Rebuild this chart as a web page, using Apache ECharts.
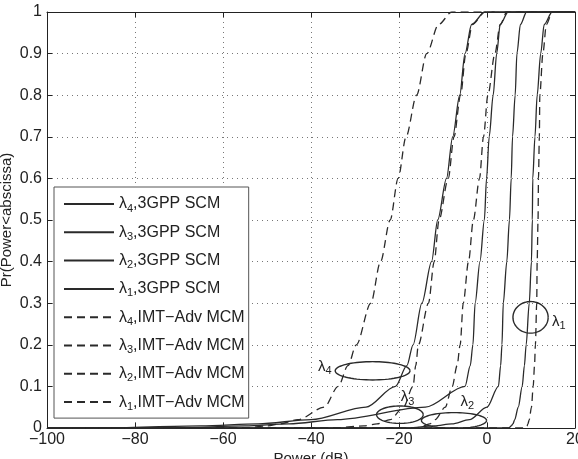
<!DOCTYPE html>
<html>
<head>
<meta charset="utf-8">
<script src="https://cdn.jsdelivr.net/npm/echarts@6/dist/echarts.min.js"></script>
<style>
  html, body { margin: 0; padding: 0; background: #fff; }
  #chart { width: 578px; height: 459px; }
</style>
</head>
<body>
<div id="chart"></div>
<script>
var chartDom = document.getElementById("chart");
var myChart = echarts.init(chartDom);

// cumulative probability levels shared by all curves
var probs = [0, 0, 0.005, 0.01, 0.02, 0.05, 0.1, 0.15, 0.2, 0.3, 0.4, 0.5, 0.6, 0.7, 0.8, 0.9, 0.97, 1, 1];

// power (dB) at each level
var scm4 = [-100, -88, -65, -52, -40, -27.5, -20.8, -18.2, -16.8, -14.8, -12.6, -11.2, -9.2, -7.8, -6.2, -5, -3.5, -0.5, 20];
var scm3 = [-100, -70, -55, -45, -34, -14, -5, -3.8, -3.2, -2.7, -1.6, -0.6, -0.1, 0.5, 1.4, 2.2, 3.0, 4.8, 20];
var scm2 = [-100, -18, -12, -8, -4, 0, 2.6, 3.1, 3.4, 3.7, 4.5, 5.1, 5.5, 5.8, 6.4, 6.8, 7.6, 9, 20];
var scm1 = [-100, 5, 5.5, 5.9, 6.3, 7.1, 8, 8.5, 8.9, 9.6, 10.1, 10.3, 10.4, 10.9, 11.4, 12.2, 13, 14.8, 20];
var mcm4 = [-100, -55, -50, -47, -43, -37, -33.8, -31.6, -29.7, -26.4, -24.2, -22, -20.2, -18.4, -16, -13.7, -11, -8, 20];
var mcm3 = [-100, -35, -28, -25, -22, -19, -16.8, -16.2, -15.6, -13.3, -12, -10.9, -8.8, -7.5, -6, -4.8, -3.3, -0.5, 20];
var mcm2 = [-100, -16, -14.5, -13, -11.8, -9.5, -7.9, -6.8, -6.1, -5.4, -4.2, -3.1, -1.7, -0.8, 0.2, 1.8, 3, 4.5, 20];
var mcm1 = [-100, 8.8, 9.1, 9.3, 9.6, 10.1, 10.5, 10.8, 11.0, 11.3, 11.4, 11.6, 11.7, 11.9, 12.0, 12.7, 13.5, 14.8, 20];

var seriesNames = [
  "λ4,3GPP SCM", "λ3,3GPP SCM", "λ2,3GPP SCM", "λ1,3GPP SCM",
  "λ4,IMT−Adv MCM", "λ3,IMT−Adv MCM", "λ2,IMT−Adv MCM", "λ1,IMT−Adv MCM"
];
var seriesX = [scm4, scm3, scm2, scm1, mcm4, mcm3, mcm2, mcm1];

var xTicks = [-100, -80, -60, -40, -20, 0, 20];

// ellipse annotations: [centre x, centre y, radius x, radius y]
var ellipses = [
  [-26, 0.1375, 8.5, 0.022],
  [-19.8, 0.032, 5.3, 0.021],
  [-7.5, 0.018, 7.4, 0.019],
  [9.9, 0.266, 4.0, 0.038]
];
// λ labels: [x, y, index, align]
var lambdaLabels = [
  [-35.3, 0.148, "4", "right"],
  [-19.6, 0.074, "3", "left"],
  [-6.0, 0.064, "2", "left"],
  [14.8, 0.256, "1", "left"]
];

var lineColor = "#2a2a2a";
var font = "Liberation Sans, Arial, Helvetica, sans-serif";

function pairs(xs) {
  return xs.map(function (x, i) { return [x, probs[i]]; });
}

var series = seriesNames.map(function (name, i) {
  return {
    name: name,
    type: "line",
    data: pairs(seriesX[i]),
    smooth: 0.3,
    smoothMonotone: "x",
    symbol: "none",
    silent: true,
    lineStyle: {
      color: lineColor,
      width: 1.3,
      type: i < 4 ? "solid" : [8, 5]
    },
    itemStyle: { color: lineColor }
  };
});

series.push({
  type: "custom",
  silent: true,
  data: ellipses,
  renderItem: function (params, api) {
    var cx = api.value(0), cy = api.value(1);
    var rx = api.value(2), ry = api.value(3);
    var pts = [];
    for (var k = 0; k <= 72; k++) {
      var t = (k / 72) * Math.PI * 2;
      pts.push(api.coord([cx + rx * Math.cos(t), cy + ry * Math.sin(t)]));
    }
    return {
      type: "polyline",
      shape: { points: pts },
      style: { stroke: lineColor, lineWidth: 1.4, fill: null }
    };
  }
});

series.push({
  type: "custom",
  silent: true,
  data: lambdaLabels,
  renderItem: function (params, api) {
    var p = api.coord([api.value(0), api.value(1)]);
    var item = lambdaLabels[params.dataIndex];
    return {
      type: "text",
      x: p[0],
      y: p[1],
      style: {
        text: "{l|λ}{s|" + item[2] + "}",
        align: item[3],
        verticalAlign: "middle",
        rich: {
          l: { fontSize: 15, fontFamily: font, fill: "#222" },
          s: { fontSize: 11, fontFamily: font, fill: "#222", padding: [9, 0, 0, 0] }
        }
      }
    };
  }
});

var axisColor = "#222";

var option = {
  animation: false,
  backgroundColor: "#fff",
  grid: {
    left: 47, right: 3, top: 12, bottom: 31,
    containLabel: false,
    outerBoundsMode: "none"
  },
  legend: {
    orient: "vertical",
    left: 54,
    top: 187,
    itemWidth: 50,
    itemHeight: 14,
    itemGap: 10.3,
    padding: [9, 4, 6, 9],
    borderColor: "#555",
    borderWidth: 1,
    backgroundColor: "#fff",
    selectedMode: false,
    data: seriesNames,
    itemStyle: { opacity: 0 },
    formatter: function (name) {
      return name.replace(/^λ(\d)/, "{l|λ}{s|$1}");
    },
    textStyle: {
      fontSize: 16,
      fontFamily: font,
      color: "#222",
      rich: {
        l: { fontSize: 16, fontFamily: font, color: "#222" },
        s: { fontSize: 11, fontFamily: font, color: "#222", padding: [9, 0, 0, 0] }
      }
    }
  },
  xAxis: [
    {
      type: "value",
      min: xTicks[0],
      max: xTicks[xTicks.length - 1],
      interval: 20,
      name: "Power (dB)",
      nameLocation: "middle",
      nameGap: 23,
      nameMoveOverlap: false,
      nameTextStyle: { fontSize: 15, fontFamily: font, color: "#222" },
      axisLine: { onZero: false, lineStyle: { color: axisColor, width: 1 } },
      axisTick: { inside: true, length: 5, lineStyle: { color: axisColor } },
      axisLabel: {
        fontSize: 16, fontFamily: font, color: "#222", margin: 4,
        formatter: function (v) { return String(v).replace("-", "−"); }
      },
      splitLine: { show: true, lineStyle: { color: "#777", type: [1, 4], width: 1 } }
    },
    {
      type: "value",
      position: "top",
      min: xTicks[0],
      max: xTicks[xTicks.length - 1],
      interval: 20,
      axisLine: { onZero: false, lineStyle: { color: axisColor, width: 1 } },
      axisTick: { inside: true, length: 5, lineStyle: { color: axisColor } },
      axisLabel: { show: false },
      splitLine: { show: false }
    }
  ],
  yAxis: [
    {
      type: "value",
      min: 0,
      max: 1,
      interval: 0.1,
      name: "Pr(Power<abscissa)",
      nameLocation: "middle",
      nameGap: 33,
      nameMoveOverlap: false,
      nameTextStyle: { fontSize: 15, fontFamily: font, color: "#222" },
      axisLine: { show: true, onZero: false, lineStyle: { color: axisColor, width: 1 } },
      axisTick: { show: true, inside: true, length: 5, lineStyle: { color: axisColor } },
      axisLabel: { fontSize: 16, fontFamily: font, color: "#222", margin: 5 },
      splitLine: { show: true, lineStyle: { color: "#777", type: [1, 4], width: 1 } }
    },
    {
      type: "value",
      position: "right",
      min: 0,
      max: 1,
      interval: 0.1,
      axisLine: { show: true, onZero: false, lineStyle: { color: axisColor, width: 1 } },
      axisTick: { show: true, inside: true, length: 5, lineStyle: { color: axisColor } },
      axisLabel: { show: false },
      splitLine: { show: false }
    }
  ],
  series: series
};

option && myChart.setOption(option);
</script>
</body>
</html>
